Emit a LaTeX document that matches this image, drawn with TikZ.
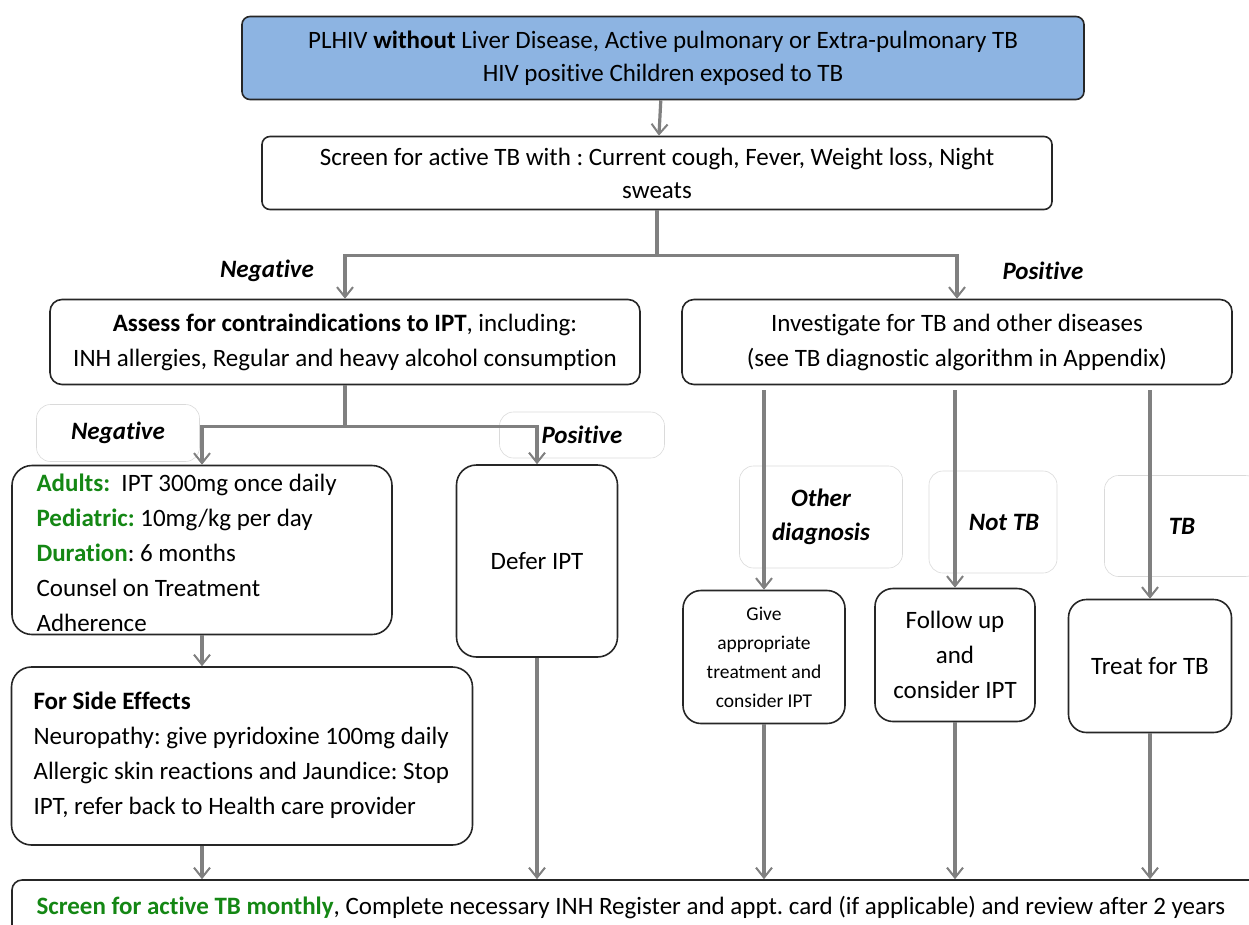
\documentclass[tikz,border=0pt]{standalone}
\usepackage{fontspec}
\setmainfont{Carlito}[Ligatures=NoCommon]
\frenchspacing
\usetikzlibrary{calc,positioning,arrows.meta}

\definecolor{topblue}{RGB}{141,180,226}
\definecolor{dgreen}{RGB}{20,135,20}
\definecolor{faint}{RGB}{218,218,218}

\begin{document}
\begin{tikzpicture}[x=1pt,y=-1pt]

  \tikzstyle{every node}=[font=\fontsize{25}{35}\selectfont]
  \tikzstyle{box}=[draw=black!85, line width=1.6pt, rounded corners=12pt, inner sep=2pt]
  \tikzstyle{lbl}=[draw=faint, line width=0.6pt, rounded corners=14pt, font=\fontsize{25}{35}\selectfont\bfseries\itshape]
  \tikzstyle{arr}=[draw=gray, line width=3.2pt, -{Straight Barb[length=10pt,width=16pt,line width=2pt]}]
  \tikzstyle{seg}=[draw=gray, line width=3.2pt]

  \useasboundingbox (0,0) rectangle (1249,924);

  %%% top of the chart
  \node (plhiv) at (663,58) [box, fill=topblue, rounded corners=8pt, minimum width=842, minimum height=83, align=center,
    font=\fontsize{25}{33}\selectfont]
    {PLHIV \textbf{without} Liver Disease, Active pulmonary or Extra-pulmonary TB \\ HIV positive Children exposed to TB};
  \node (screen) at (657,173) [box, rounded corners=8pt, minimum width=790, minimum height=73, align=center,
    font=\fontsize{25}{33}\selectfont]
    {Screen for active TB with : Current cough, Fever, Weight loss, Night \\ sweats};
  \draw [arr] (plhiv) -- (screen);

  \node (assess) at (345,342) [box, minimum width=590, minimum height=85, align=center]
    {\textbf{Assess for contraindications to IPT}, including: \\ INH allergies, Regular and heavy alcohol consumption};
  \node (invest) at (957,342) [box, minimum width=550, minimum height=85, align=center]
    {Investigate for TB and other diseases \\ (see TB diagnostic algorithm in Appendix)};

  \node (negA) at (267,271) [font=\fontsize{25}{35}\selectfont\bfseries\itshape] {Negative};
  \node (posA) at (1043,271) [font=\fontsize{25}{35}\selectfont\bfseries\itshape] {Positive};

  \coordinate (split1) at ($(screen.south)+(0,45)$);
  \draw [seg] (screen.south) -- (split1);
  \draw [arr] (split1) -| (assess.north);
  \draw [arr] (split1) -| (invest.north);

  %%% left branch
  \node (negB) at (118,433) [lbl, minimum width=163, minimum height=57] {Negative};
  \node (posB) at (582,435) [lbl, minimum width=165, minimum height=46] {Positive};

  \node (adults) at (202,550) [box, rounded corners=20pt, minimum width=380, minimum height=169] {};
  \node (adultstxt) at (33,553) [anchor=west, align=left]
    {\textcolor{dgreen}{\textbf{Adults:}}\ \ IPT 300mg once daily \\
     \textcolor{dgreen}{\textbf{Pediatric:}} 10mg/kg per day \\
     \textcolor{dgreen}{\textbf{Duration}}: 6 months \\
     Counsel on Treatment \\
     Adherence};
  \node (defer) at (537,561) [box, rounded corners=20pt, minimum width=161, minimum height=192] {Defer IPT};

  \coordinate (split2) at ($(assess.south)+(0,41)$);
  \draw [seg] (assess.south) -- (split2);
  \draw [arr] (split2) -| (adults.north);
  \draw [arr] (split2) -| (defer.north);

  \node (side) at (242,756) [box, rounded corners=20pt, minimum width=461, minimum height=178] {};
  \node (sidetxt) at (30,755) [anchor=west, align=left]
    {\textbf{For Side Effects} \\
     Neuropathy: give pyridoxine 100mg daily \\
     Allergic skin reactions and Jaundice: Stop \\
     IPT, refer back to Health care provider};
  \draw [arr] (adults.south) -- (adults.south |- side.north);

  %%% right branch
  \node (other) at (821,517) [lbl, minimum width=163, minimum height=102, align=center] {Other \\[-1pt] diagnosis};
  \node (nottb) at (993,522) [lbl, minimum width=128, minimum height=102] {\hspace*{22pt}Not TB};
  \node (tb) at (1182,526) [lbl, minimum width=155, minimum height=101] {TB};

  \node (give) at (764,657) [box, rounded corners=18pt, minimum width=162, minimum height=133, align=center,
    font=\fontsize{19.5}{29}\selectfont] {Give \\ appropriate \\ treatment and \\ consider IPT};
  \node (follow) at (955,655) [box, rounded corners=18pt, minimum width=160, minimum height=133, align=center]
    {Follow up \\ and \\ consider IPT};
  \node (treat) at (1150,666) [box, rounded corners=18pt, minimum width=163, minimum height=133] {Treat for TB};

  \draw [arr] ([yshift=-5pt]invest.south -| give.north) -- (give.north);
  \draw [arr] ([yshift=-5pt]invest.south -| follow.north) -- (follow.north);
  \draw [arr] ([yshift=-5pt]invest.south -| treat.north) -- (treat.north);

  %%% bottom of the chart
  \node (monthly) at (637,910) [box, rounded corners=10pt, minimum width=1250, minimum height=60] {};
  \node (monthlytxt) at (33,907) [anchor=west]
    {\textcolor{dgreen}{\textbf{Screen for active TB monthly}}, Complete necessary INH Register and appt. card (if applicable) and review after 2 years};

  \draw [arr] (adults.south |- side.south) -- (adults.south |- monthly.north);
  \draw [arr] (defer.south) -- (defer.south |- monthly.north);
  \draw [arr] (give.south) -- (give.south |- monthly.north);
  \draw [arr] (follow.south) -- (follow.south |- monthly.north);
  \draw [arr] (treat.south) -- (treat.south |- monthly.north);

\end{tikzpicture}
\end{document}
